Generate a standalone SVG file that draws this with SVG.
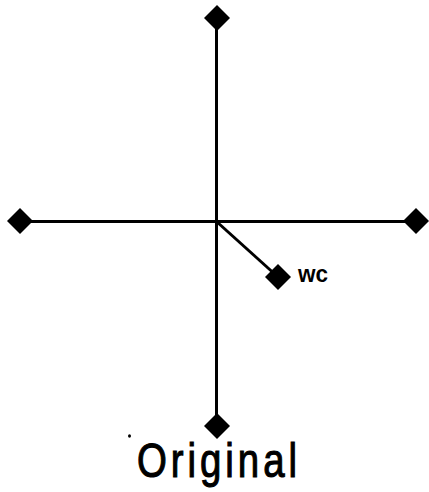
<svg xmlns="http://www.w3.org/2000/svg" width="429" height="492" viewBox="0 0 429 492">
<style>
.ln{stroke:#000;stroke-width:3;fill:none;stroke-linecap:butt}
.dm{fill:#000}
.lbl{font-family:"Liberation Sans",Arial,sans-serif;fill:#000}
</style>
<defs>
<path id="d" d="M0,-13 L13,0 L0,13 L-13,0 Z"/>
</defs>
<rect width="429" height="492" fill="#fff"/>
<g id="connectors">
<line class="ln" x1="216.5" y1="18" x2="216.5" y2="427"/>
<line class="ln" x1="20" y1="221.5" x2="417" y2="221.5"/>
<line class="ln" x1="216.5" y1="221.5" x2="278" y2="277" stroke-width="2.5"/>
</g>
<g id="top"><use href="#d" class="dm" x="217" y="18"/></g>
<g id="left"><use href="#d" class="dm" x="20" y="221"/></g>
<g id="right"><use href="#d" class="dm" x="416" y="221"/></g>
<g id="bottom"><use href="#d" class="dm" x="217" y="426"/></g>
<g id="wc"><use href="#d" class="dm" x="278" y="277"/>
<text class="lbl" x="298" y="282" font-size="23" font-weight="bold" textLength="30" lengthAdjust="spacingAndGlyphs">wc</text></g>
<g id="title">
<ellipse cx="129.5" cy="436" rx="1.5" ry="1.8" fill="#000"/>
<text class="lbl" transform="scale(0.8,1)" x="171.25" y="477" font-size="48" stroke="#000" stroke-width="1.1" textLength="200" lengthAdjust="spacing">Original</text>
</g>
</svg>
